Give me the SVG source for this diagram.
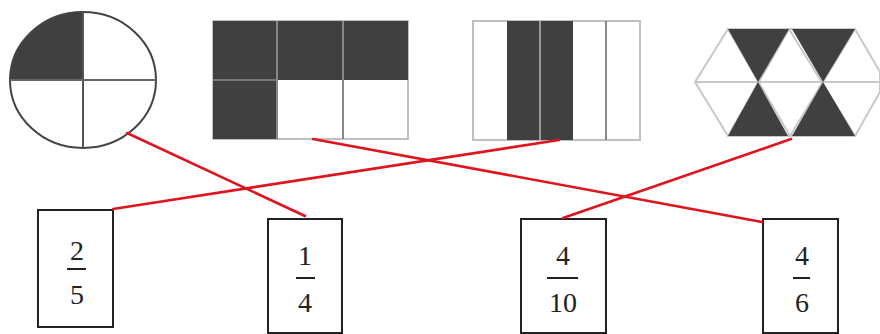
<svg xmlns="http://www.w3.org/2000/svg" width="880" height="334" viewBox="0 0 880 334">
<style>
.dark{fill:#404040}
.lgl{stroke:#c8c8c8;stroke-width:2;fill:none}
.box{fill:#fff;stroke:#222;stroke-width:2}
.num{font-family:"Liberation Serif","Times New Roman",serif;font-size:28px;fill:#222;text-anchor:middle}
.bar{stroke:#222;stroke-width:2}
.link{stroke:#e0141e;stroke-width:2.6;fill:none;stroke-linecap:round}
</style>
<rect width="880" height="334" fill="#fff"/>
<g id="circle">
  <path class="dark" d="M83,80 L83,12 A73,68 0 0 0 10,80 Z"/>
  <ellipse cx="83" cy="80" rx="73" ry="68" fill="none" stroke="#444" stroke-width="2"/>
  <line x1="83" y1="12" x2="83" y2="148" stroke="#555" stroke-width="2"/>
  <line x1="10" y1="80" x2="156" y2="80" stroke="#666" stroke-width="2"/>
</g>
<g id="grid">
  <rect x="213" y="21" width="195" height="118" fill="#fff" stroke="#aaa" stroke-width="1.5"/>
  <rect class="dark" x="213" y="21" width="195" height="59"/>
  <rect class="dark" x="213" y="80" width="64" height="59"/>
  <line x1="277" y1="21" x2="277" y2="139" stroke="#888" stroke-width="2"/>
  <line x1="343" y1="21" x2="343" y2="139" stroke="#888" stroke-width="2"/>
  <line x1="213" y1="80" x2="277" y2="80" stroke="#777" stroke-width="2"/>
</g>
<g id="strips">
  <rect x="473" y="21" width="167" height="119" fill="#fff" stroke="#c0c0c0" stroke-width="2"/>
  <rect class="dark" x="507" y="21" width="66" height="119"/>
  <line x1="540" y1="21" x2="540" y2="140" stroke="#999" stroke-width="2"/>
  <line x1="606" y1="21" x2="606" y2="140" stroke="#888" stroke-width="2"/>
</g>
<g id="hexagons">
  <polygon class="lgl" points="695,82 728,29 855,29 880,72 880,92 855,136 728,136"/>
  <line class="lgl" x1="695" y1="82" x2="880" y2="82"/>
  <line class="lgl" x1="728" y1="29" x2="790" y2="136"/>
  <line class="lgl" x1="789" y1="29" x2="728" y2="136"/>
  <line class="lgl" x1="789" y1="29" x2="855" y2="136"/>
  <line class="lgl" x1="855" y1="29" x2="790" y2="136"/>
  <polygon class="dark" points="728,29 789,29 758,82"/>
  <polygon class="dark" points="792,29 855,29 823,82"/>
  <polygon class="dark" points="758,82 728,136 788,136"/>
  <polygon class="dark" points="823,82 792,136 855,136"/>
</g>
<g id="box-2-5">
  <rect class="box" x="38" y="210" width="75" height="117"/>
  <text class="num" x="77" y="260">2</text>
  <line class="bar" x1="67" y1="269" x2="86" y2="269"/>
  <text class="num" x="77" y="304">5</text>
</g>
<g id="box-1-4">
  <rect class="box" x="268" y="219" width="74" height="114"/>
  <text class="num" x="305" y="265">1</text>
  <line class="bar" x1="296" y1="278" x2="315" y2="278"/>
  <text class="num" x="305" y="312">4</text>
</g>
<g id="box-4-10">
  <rect class="box" x="521" y="219" width="85" height="114"/>
  <text class="num" x="563" y="265">4</text>
  <line class="bar" x1="547" y1="278" x2="578" y2="278"/>
  <text class="num" x="563" y="312">10</text>
</g>
<g id="box-4-6">
  <rect class="box" x="763" y="219" width="75" height="114"/>
  <text class="num" x="802" y="265">4</text>
  <line class="bar" x1="793" y1="278" x2="810" y2="278"/>
  <text class="num" x="802" y="312">6</text>
</g>
<g id="connectors">
  <line class="link" x1="127" y1="133" x2="305" y2="216"/>
  <line class="link" x1="313" y1="139" x2="762" y2="222"/>
  <line class="link" x1="559" y1="140" x2="113" y2="209"/>
  <line class="link" x1="791" y1="139" x2="563" y2="218"/>
</g>
</svg>
